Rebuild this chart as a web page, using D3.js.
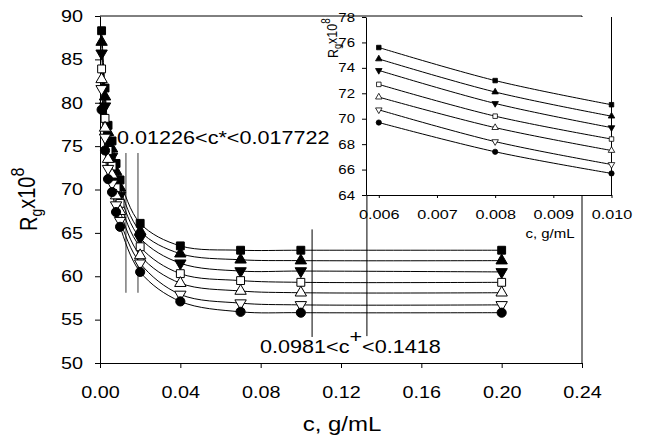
<!DOCTYPE html>
<html>
<head>
<meta charset="utf-8">
<script src="https://cdn.jsdelivr.net/npm/d3@7"></script>
<style>
body{margin:0;background:#fff;}
svg{font-family:"Liberation Sans",Arial,sans-serif;}
</style>
</head>
<body>
<svg width="650" height="446"></svg>
<script>
// concentration (g/mL) and Rg x10^8 for the seven series
var cVals = [0.0008, 0.0025, 0.004, 0.006, 0.008, 0.010, 0.020, 0.040, 0.070, 0.100, 0.200];
var rgFilledSquare = [88.3, 81.7, 77.4, 75.6, 73.0, 71.1, 66.1, 63.5, 63.0, 63.0, 63.0];
var rgFilledUp     = [87.0, 80.7, 76.6, 74.7, 72.1, 70.2, 65.2, 62.6, 61.9, 61.8, 61.8];
var rgFilledDown   = [85.7, 79.6, 75.6, 73.8, 71.2, 69.3, 64.4, 61.5, 60.6, 60.6, 60.5];
var rgOpenSquare   = [83.9, 78.2, 74.5, 72.7, 70.2, 68.4, 63.4, 60.3, 59.5, 59.3, 59.3];
var rgOpenUp       = [82.7, 77.1, 73.5, 71.7, 69.3, 67.5, 62.4, 59.2, 58.3, 58.1, 58.1];
var rgOpenDown     = [81.6, 76.0, 72.4, 70.7, 68.2, 66.4, 61.5, 57.9, 56.9, 56.7, 56.7];
var rgCircle       = [79.2, 74.5, 71.2, 69.7, 67.4, 65.7, 60.5, 57.1, 55.9, 55.8, 55.8];

// inset uses the 0.006 - 0.010 part of the same data
var insetFrom = 3, insetTo = 5;

var xTicks = [0, 0.04, 0.08, 0.12, 0.16, 0.20, 0.24];
var yTicks = [50, 55, 60, 65, 70, 75, 80, 85, 90];
var insetXTicks = [0.006, 0.007, 0.008, 0.009, 0.010];
var insetYTicks = [64, 66, 68, 70, 72, 74, 76, 78];

// marker lines for c* and c+ (x position, y from, y to)
var cStarLines = [[0.0129, 74.2, 58.1], [0.0189, 74.2, 58.1]];
var cPlusLines = [[0.1056, 65.4, 53.0], [0.1329, 72.2, 53.1]];

var stretch = 1.2;
var svg = d3.select("svg");

var series = [
	{vals: rgFilledSquare, shape: "square", fill: "#000"},
	{vals: rgFilledUp, shape: "up", fill: "#000"},
	{vals: rgFilledDown, shape: "down", fill: "#000"},
	{vals: rgOpenSquare, shape: "square", fill: "#fff"},
	{vals: rgOpenUp, shape: "up", fill: "#fff"},
	{vals: rgOpenDown, shape: "down", fill: "#fff"},
	{vals: rgCircle, shape: "circle", fill: "#000"}
];

var symbolPath = function(shape, scale){
	var type = shape == "square" ? d3.symbolSquare : (shape == "circle" ? d3.symbolCircle : d3.symbolTriangle);
	var size = shape == "square" ? 62 : (shape == "circle" ? 66 : 56);
	return d3.symbol().type(type).size(size*scale)();
}

var addText = function(g, x, y, anchor, size){
	return g.append("text")
		.attr("transform", "translate(" + x + "," + y + ") scale(" + stretch + ",1)")
		.attr("text-anchor", anchor)
		.style("font-size", size + "px")
		.attr("fill", "#000");
}

var drawSeries = function(g, xs, ys, from, to, curve, markerScale){
	series.forEach(function(s){
		var pts = [];
		for(var i = from; i <= to; i++){
			pts.push([xs(cVals[i]), ys(s.vals[i])]);
		}
		g.append("path")
			.attr("d", d3.line().curve(curve)(pts))
			.attr("fill", "none")
			.attr("stroke", "#000")
			.attr("stroke-width", 1);
	});
	series.forEach(function(s){
		for(var i = from; i <= to; i++){
			g.append("path")
				.attr("d", symbolPath(s.shape, markerScale))
				.attr("transform", "translate(" + xs(cVals[i]) + "," + ys(s.vals[i]) + ")" + (s.shape == "down" ? " rotate(180)" : ""))
				.attr("fill", s.fill)
				.attr("stroke", "#000")
				.attr("stroke-width", markerScale < 1 ? 0.8 : 1);
		}
	});
}

// ---------- main chart ----------
var x = d3.scaleLinear().domain([0, 0.24]).range([100, 582]);
var y = d3.scaleLinear().domain([50, 90]).range([363, 16]);

var main = svg.append("g");

main.append("line").attr("x1", 100).attr("x2", 582).attr("y1", 16).attr("y2", 16).attr("stroke", "#000");
main.append("line").attr("x1", 582).attr("x2", 582).attr("y1", 16).attr("y2", 363).attr("stroke", "#000");

var yAxis = main.append("g")
	.attr("transform", "translate(100,0)")
	.call(d3.axisLeft(y).tickValues(yTicks).tickSizeInner(5).tickSizeOuter(0).tickPadding(12).tickFormat(d3.format("d")));
var xAxis = main.append("g")
	.attr("transform", "translate(0,363)")
	.call(d3.axisBottom(x).tickValues(xTicks).tickSizeInner(5).tickSizeOuter(0).tickPadding(18).tickFormat(d3.format(".2f")));

[yAxis, xAxis].forEach(function(ax){
	ax.select(".domain").attr("stroke", "#000");
	ax.selectAll(".tick line").attr("stroke", "#000");
	ax.selectAll("text").style("font-size", "16.5px").attr("fill", "#000").style("font-family", "inherit");
});
yAxis.selectAll("text").each(function(){
	var t = d3.select(this);
	var tx = +t.attr("x");
	t.attr("x", 0).attr("transform", "translate(" + tx + ",0) scale(" + stretch + ",1)");
});
xAxis.selectAll("text").attr("transform", "scale(" + stretch + ",1)");

// axis titles
var yTitle = main.append("text")
	.attr("transform", "translate(37,231) scale(" + stretch + ",1) rotate(-90)")
	.style("font-size", "20px")
	.attr("fill", "#000");
yTitle.append("tspan").text("R");
yTitle.append("tspan").attr("dy", "0.3em").style("font-size", "14px").text("g");
yTitle.append("tspan").attr("dy", "-0.3em").text("x10");
yTitle.append("tspan").attr("dy", "-0.55em").style("font-size", "16px").text("8");

addText(main, 342, 431, "middle", 20).text("c, g/mL");

// c* and c+ markers
cStarLines.forEach(function(l){
	main.append("line")
		.attr("x1", x(l[0])).attr("x2", x(l[0]))
		.attr("y1", y(l[1])).attr("y2", y(l[2]))
		.attr("stroke", "#7a7a7a").attr("stroke-width", 1.5);
});
cPlusLines.forEach(function(l){
	main.append("line")
		.attr("x1", x(l[0])).attr("x2", x(l[0]))
		.attr("y1", y(l[1])).attr("y2", y(l[2]))
		.attr("stroke", "#000").attr("stroke-width", 1);
});

drawSeries(main, x, y, 0, cVals.length - 1, d3.curveCatmullRom.alpha(0.5), 1);

addText(main, 117, 144, "start", 18).text("0.01226<c*<0.017722");
var cPlusText = addText(main, 260, 353, "start", 18);
cPlusText.append("tspan").text("0.0981<c");
cPlusText.append("tspan").attr("dy", "-0.55em").text("+");
cPlusText.append("tspan").attr("dy", "0.55em").text("<0.1418");

// ---------- inset ----------
var ix = d3.scaleLinear().domain([0.00578, 0.010]).range([366, 611.5]);
var iy = d3.scaleLinear().domain([64, 78]).range([195, 17]);

var inset = svg.append("g");
inset.append("rect").attr("x", 366).attr("y", 17).attr("width", 246).attr("height", 178).attr("fill", "#fff");
inset.append("line").attr("x1", 611.5).attr("x2", 611.5).attr("y1", 17).attr("y2", 195).attr("stroke", "#000");

var iyAxis = inset.append("g")
	.attr("transform", "translate(366,0)")
	.call(d3.axisLeft(iy).tickValues(insetYTicks).tickSizeInner(4).tickSizeOuter(0).tickPadding(7).tickFormat(d3.format("d")));
var ixAxis = inset.append("g")
	.attr("transform", "translate(0,195)")
	.call(d3.axisBottom(ix).tickValues(insetXTicks).tickSizeInner(3).tickSizeOuter(0).tickPadding(11).tickFormat(d3.format(".3f")));

[iyAxis, ixAxis].forEach(function(ax){
	ax.select(".domain").attr("stroke", "#000");
	ax.selectAll(".tick line").attr("stroke", "#000");
	ax.selectAll("text").attr("fill", "#000").style("font-family", "inherit");
});
iyAxis.selectAll("text").style("font-size", "12.5px").each(function(){
	var t = d3.select(this);
	var tx = +t.attr("x");
	t.attr("x", 0).attr("transform", "translate(" + tx + ",0) scale(" + stretch + ",1)");
});
ixAxis.selectAll("text").style("font-size", "13.5px").attr("transform", "scale(" + stretch + ",1)");

var iyTitle = inset.append("text")
	.attr("transform", "translate(338,58) scale(" + stretch + ",1) rotate(-90)")
	.style("font-size", "12.5px")
	.attr("fill", "#000");
iyTitle.append("tspan").text("R");
iyTitle.append("tspan").attr("dy", "0.3em").style("font-size", "9px").text("g");
iyTitle.append("tspan").attr("dy", "-0.3em").text("x10");
iyTitle.append("tspan").attr("dy", "-0.55em").style("font-size", "10px").text("8");

addText(inset, 550, 238, "middle", 12.5).text("c, g/mL");

drawSeries(inset, ix, iy, insetFrom, insetTo, d3.curveCatmullRom.alpha(0.5), 0.33);
</script>
</body>
</html>
